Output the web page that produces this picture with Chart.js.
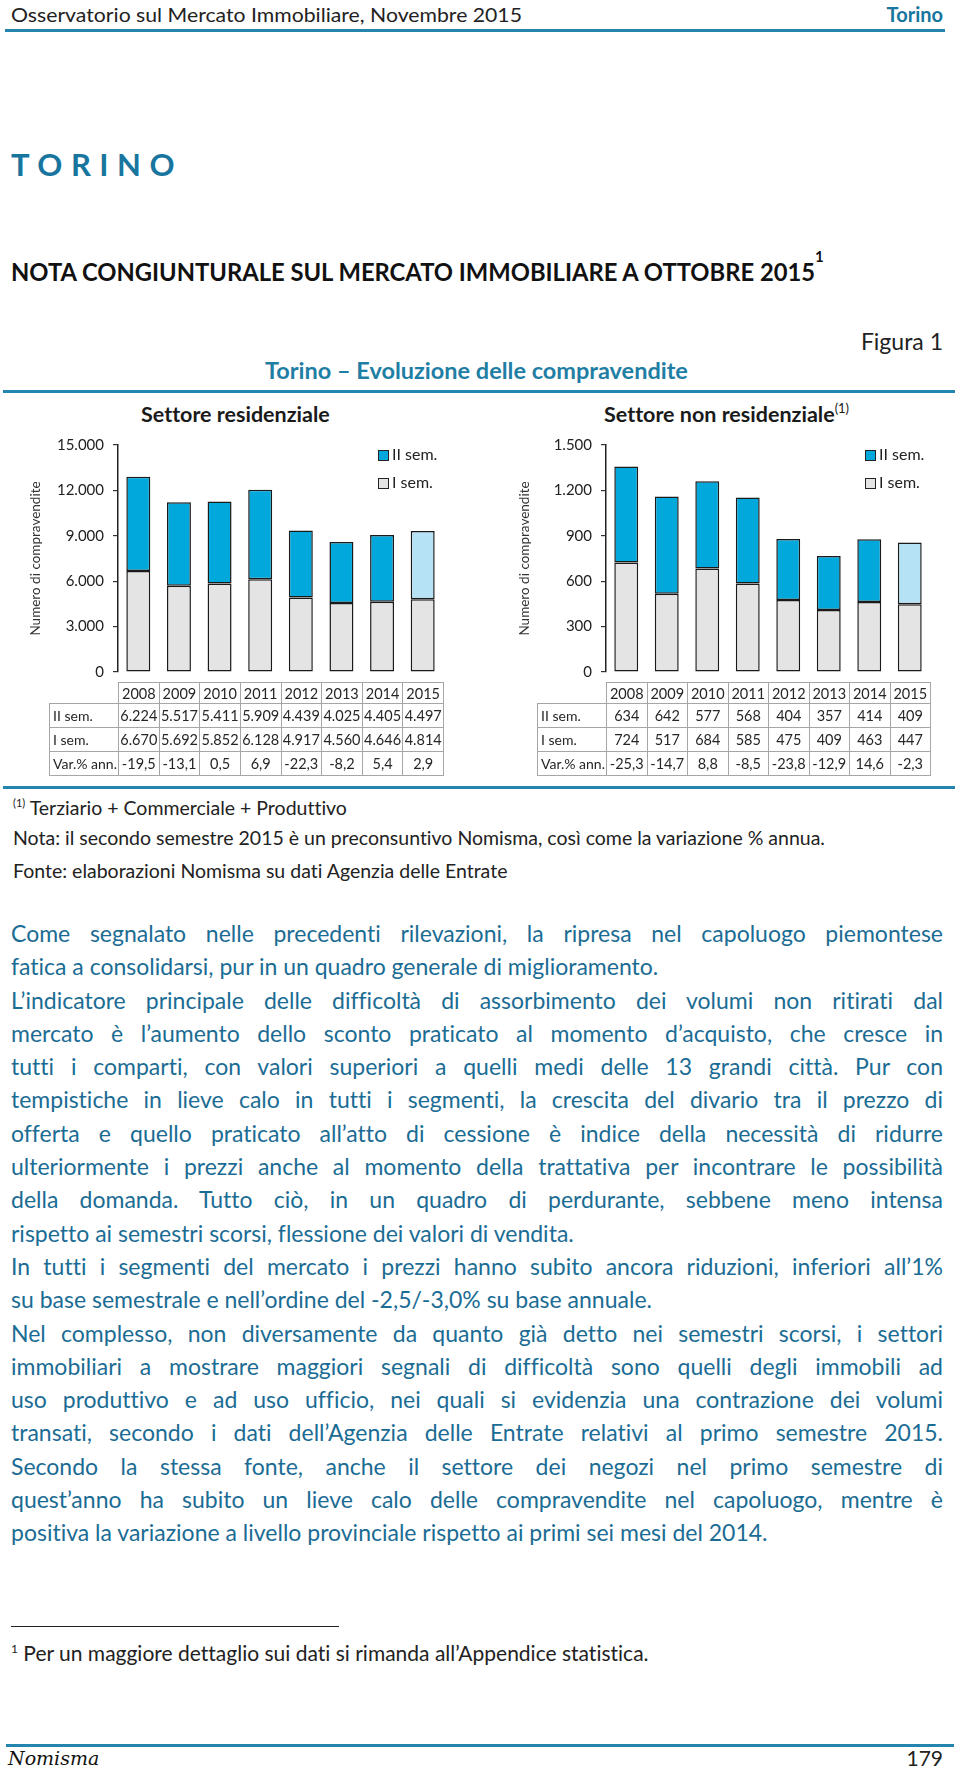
<!DOCTYPE html>
<html lang="it">
<head>
<meta charset="UTF-8">
<title>Torino – Evoluzione delle compravendite</title>
<script src="https://cdn.jsdelivr.net/npm/chart.js"></script>
<style>
  body { margin: 0; background: #fff; font-family: Lato, "Open Sans", sans-serif; color: #222; font-variant-ligatures: none; }
  .page { position: relative; width: 960px; height: 1770px; overflow: hidden; }
  .abs { position: absolute; white-space: nowrap; }
  .rule { position: absolute; background: #2486ae; }
  .teal { color: #17759e; }
  sup { font-size: 60%; line-height: 0; vertical-align: 0.7em; }
  canvas { position: absolute; }
  .legenda { position: absolute; font-size: 16px; color: #222; }
  .legenda div { height: 28px; line-height: 28px; white-space: nowrap; }
  .legenda span.box { display: inline-block; width: 9px; height: 9px; border: 1.5px solid #222; margin-right: 3px; vertical-align: -1px; }
  table.dati { position: absolute; border-collapse: collapse; table-layout: fixed; font-size: 14.5px; color: #262626; }
  table.dati td { border: 1px solid #a6a6a6; text-align: center; padding: 0; height: 23px; white-space: nowrap; }
  table.dati tr.anni td { height: 20px; }
  table.dati tr.anni td.vuoto { border: none; }
  table.dati td.lab { text-align: left; padding-left: 3px; font-size: 14px; }
  .note { position: absolute; left: 13px; font-size: 19.5px; color: #222; white-space: nowrap; }
  #testo { position: absolute; left: 11px; top: 917px; width: 932px; line-height: 33.3px; color: #1b6c94; font-size: 23px; }
  #testo div { text-align: justify; text-align-last: justify; height: 33.3px; }
  #testo div.fine { text-align: left; text-align-last: left; }
</style>
</head>
<body>
<div class="page">

  <div class="abs" id="intest" style="left:11px; top:2px; font-size:20px; line-height:24px;">Osservatorio sul Mercato Immobiliare, Novembre 2015</div>
  <div class="abs teal" style="right:17px; top:2px; font-size:20px; line-height:24px; font-weight:bold;">Torino</div>
  <div class="rule" style="left:5px; top:29px; width:940px; height:3px;"></div>

  <div class="abs teal" style="left:11px; top:146px; font-size:31px; line-height:36px; font-weight:bold; letter-spacing:8.5px;">TORINO</div>

  <div class="abs" id="titolo" style="left:11px; top:256px; font-size:25px; line-height:30px; font-weight:bold; color:#111;">NOTA CONGIUNTURALE SUL MERCATO IMMOBILIARE A OTTOBRE 2015</div>
  <div class="abs" style="left:815px; top:247px; font-size:15px; line-height:18px; font-weight:bold; color:#111;">1</div>

  <div class="abs" style="right:17px; top:327px; font-size:23px; line-height:28px; color:#222;">Figura 1</div>
  <div class="abs" style="left:265px; top:356px; font-size:23.5px; line-height:28px; font-weight:bold; color:#1f7ea4;">Torino – Evoluzione delle compravendite</div>
  <div class="rule" style="left:3px; top:390px; width:952px; height:3px;"></div>

  <div class="abs" style="left:141px; top:401px; font-size:21.5px; line-height:26px; font-weight:bold; color:#1a1a1a;">Settore residenziale</div>
  <div class="abs" style="left:604px; top:401px; font-size:21.5px; line-height:26px; font-weight:bold; color:#1a1a1a;">Settore non residenziale<sup style="font-weight:normal;">(1)</sup></div>

  <canvas id="graficoRes" width="480" height="265" style="left:0; top:425px;"></canvas>
  <canvas id="graficoNonRes" width="480" height="265" style="left:480px; top:425px;"></canvas>

  <div class="legenda" id="legRes" style="left:378px; top:440px;"></div>
  <div class="legenda" id="legNonRes" style="left:865px; top:440px;"></div>

  <table class="dati" id="tabRes"></table>
  <table class="dati" id="tabNonRes"></table>

  <div class="rule" style="left:3px; top:786px; width:952px; height:3px;"></div>

  <div class="note" style="top:796px;"><sup style="font-size:11px;">(1)</sup> Terziario + Commerciale + Produttivo</div>
  <div class="note" style="top:826px;">Nota: il secondo semestre 2015 è un preconsuntivo Nomisma, così come la variazione % annua.</div>
  <div class="note" style="top:859px;">Fonte: elaborazioni Nomisma su dati Agenzia delle Entrate</div>

  <div id="testo">
    <div>Come segnalato nelle precedenti rilevazioni, la ripresa nel capoluogo piemontese</div>
    <div class="fine">fatica a consolidarsi, pur in un quadro generale di miglioramento.</div>
    <div>L’indicatore principale delle difficoltà di assorbimento dei volumi non ritirati dal</div>
    <div>mercato è l’aumento dello sconto praticato al momento d’acquisto, che cresce in</div>
    <div>tutti i comparti, con valori superiori a quelli medi delle 13 grandi città. Pur con</div>
    <div>tempistiche in lieve calo in tutti i segmenti, la crescita del divario tra il prezzo di</div>
    <div>offerta e quello praticato all’atto di cessione è indice della necessità di ridurre</div>
    <div>ulteriormente i prezzi anche al momento della trattativa per incontrare le possibilità</div>
    <div>della domanda. Tutto ciò, in un quadro di perdurante, sebbene meno intensa</div>
    <div class="fine">rispetto ai semestri scorsi, flessione dei valori di vendita.</div>
    <div>In tutti i segmenti del mercato i prezzi hanno subito ancora riduzioni, inferiori all’1%</div>
    <div class="fine">su base semestrale e nell’ordine del -2,5/-3,0% su base annuale.</div>
    <div>Nel complesso, non diversamente da quanto già detto nei semestri scorsi, i settori</div>
    <div>immobiliari a mostrare maggiori segnali di difficoltà sono quelli degli immobili ad</div>
    <div>uso produttivo e ad uso ufficio, nei quali si evidenzia una contrazione dei volumi</div>
    <div>transati, secondo i dati dell’Agenzia delle Entrate relativi al primo semestre 2015.</div>
    <div>Secondo la stessa fonte, anche il settore dei negozi nel primo semestre di</div>
    <div>quest’anno ha subito un lieve calo delle compravendite nel capoluogo, mentre è</div>
    <div class="fine">positiva la variazione a livello provinciale rispetto ai primi sei mesi del 2014.</div>
  </div>

  <div style="position:absolute; left:11px; top:1626px; width:328px; height:1px; background:#222;"></div>
  <div class="abs" style="left:11px; top:1639px; font-size:21px; line-height:27px; color:#222;"><sup style="font-size:12px;">1</sup> Per un maggiore dettaglio sui dati si rimanda all’Appendice statistica.</div>

  <div class="rule" style="left:6px; top:1744px; width:948px; height:3px;"></div>
  <div class="abs" style="left:8px; top:1746px; font-family:'DejaVu Serif', serif; font-style:italic; font-size:19px; line-height:24px; color:#111;">Nomisma</div>
  <div class="abs" style="right:17px; top:1746px; font-size:21px; line-height:24px; color:#222;">179</div>
</div>

<script>
  // anni e semestri
  const anni = ['2008', '2009', '2010', '2011', '2012', '2013', '2014', '2015'];

  // settore residenziale
  const resIISem = [6224, 5517, 5411, 5909, 4439, 4025, 4405, 4497];
  const resISem = [6670, 5692, 5852, 6128, 4917, 4560, 4646, 4814];
  const resVar = [-19.5, -13.1, 0.5, 6.9, -22.3, -8.2, 5.4, 2.9];

  // settore non residenziale
  const nonResIISem = [634, 642, 577, 568, 404, 357, 414, 409];
  const nonResISem = [724, 517, 684, 585, 475, 409, 463, 447];
  const nonResVar = [-25.3, -14.7, 8.8, -8.5, -23.8, -12.9, 14.6, -2.3];

  const resTicks = [0, 3000, 6000, 9000, 12000, 15000];
  const nonResTicks = [0, 300, 600, 900, 1200, 1500];

  const BLU = '#00a8dc';
  const BLU_CHIARO = '#b6e2f6';
  const GRIGIO = '#e4e4e4';

  Chart.defaults.font.family = 'Lato';
  Chart.defaults.color = '#222';

  function migliaia(v) {
    return String(v).replace(/\B(?=(\d{3})+(?!\d))/g, '.');
  }
  function decimale(v) {
    return v.toFixed(1).replace('.', ',');
  }

  function creaGrafico(id, iiSem, iSem, ticks, padLeft, padRight, yWidth) {
    const ctx = document.getElementById(id).getContext('2d');
    // il secondo semestre 2015 e' un preconsuntivo: colore piu' chiaro
    const coloriII = iiSem.map((v, i) => i === iiSem.length - 1 ? BLU_CHIARO : BLU);
    return new Chart(ctx, {
      type: 'bar',
      data: {
        labels: anni,
        datasets: [{
          label: 'I sem.',
          data: iSem,
          backgroundColor: GRIGIO,
          borderColor: '#1a1a1a',
          borderWidth: 1.5,
          borderSkipped: false
        }, {
          label: 'II sem.',
          data: iiSem,
          backgroundColor: coloriII,
          borderColor: '#1a1a1a',
          borderWidth: 1.5,
          borderSkipped: false
        }]
      },
      options: {
        responsive: false,
        animation: false,
        devicePixelRatio: 1,
        layout: { padding: { left: padLeft, right: padRight, top: 20, bottom: 9 } },
        datasets: { bar: { categoryPercentage: 1, barPercentage: 0.59 } },
        plugins: { legend: { display: false }, tooltip: { enabled: false } },
        scales: {
          x: { stacked: true, display: false },
          y: {
            stacked: true,
            min: ticks[0],
            max: ticks[ticks.length - 1],
            afterBuildTicks: function(scale) {
              scale.ticks = ticks.map(v => ({ value: v }));
            },
            afterFit: function(scale) { scale.width = yWidth; },
            ticks: {
              padding: 9,
              font: { size: 15 },
              color: '#222',
              callback: v => migliaia(v)
            },
            grid: { drawOnChartArea: false, drawTicks: true, tickLength: 5, color: '#333', lineWidth: 1.2 },
            border: { display: true, color: '#222', width: 1.5 },
            title: {
              display: true,
              text: 'Numero di compravendite',
              font: { size: 13.5 },
              color: '#333',
              padding: 0
            }
          }
        }
      }
    });
  }

  function creaTabella(tabId, chart, canvasLeft, iiSem, iSem, varAnn, fmt) {
    const tab = document.getElementById(tabId);
    const area = chart.chartArea;
    const labW = 69;
    const colW = area.width / anni.length;
    tab.style.left = (canvasLeft + area.left - labW) + 'px';
    tab.style.top = '682px';
    tab.style.width = (labW + area.width) + 'px';

    let html = '<colgroup><col style="width:' + labW + 'px">';
    anni.forEach(() => { html += '<col style="width:' + colW + 'px">'; });
    html += '</colgroup>';
    html += '<tr class="anni"><td class="vuoto"></td>' + anni.map(a => '<td>' + a + '</td>').join('') + '</tr>';
    html += '<tr><td class="lab">II sem.</td>' + iiSem.map(v => '<td>' + fmt(v) + '</td>').join('') + '</tr>';
    html += '<tr><td class="lab">I sem.</td>' + iSem.map(v => '<td>' + fmt(v) + '</td>').join('') + '</tr>';
    html += '<tr><td class="lab">Var.% ann.</td>' + varAnn.map(v => '<td>' + decimale(v) + '</td>').join('') + '</tr>';
    tab.innerHTML = html;
  }

  function creaLegenda(id, chart) {
    const el = document.getElementById(id);
    const ds = chart.data.datasets.slice().reverse();
    el.innerHTML = ds.map(d => {
      const col = Array.isArray(d.backgroundColor) ? d.backgroundColor[0] : d.backgroundColor;
      return '<div><span class="box" style="background:' + col + '"></span>' + d.label + '</div>';
    }).join('');
  }

  const graficoRes = creaGrafico('graficoRes', resIISem, resISem, resTicks, 28, 37, 90);
  const graficoNonRes = creaGrafico('graficoNonRes', nonResIISem, nonResISem, nonResTicks, 37, 30, 89);

  creaTabella('tabRes', graficoRes, 0, resIISem, resISem, resVar, migliaia);
  creaTabella('tabNonRes', graficoNonRes, 480, nonResIISem, nonResISem, nonResVar, v => String(v));

  creaLegenda('legRes', graficoRes);
  creaLegenda('legNonRes', graficoNonRes);

  // adatta larghezze dei testi al riferimento
  function adatta(id, w) {
    const el = document.getElementById(id);
    const r = el.getBoundingClientRect().width;
    el.style.transformOrigin = 'left center';
    el.style.transform = 'scaleX(' + (w / r) + ')';
  }
  adatta('intest', 511);
  adatta('titolo', 804);

  // il testo giustificato deve stare su una riga per ogni div
  (function() {
    const righe = document.querySelectorAll('#testo div');
    let max = 0;
    righe.forEach(r => {
      const s = document.createElement('span');
      s.style.whiteSpace = 'nowrap';
      s.style.font = getComputedStyle(r).font;
      s.style.position = 'absolute';
      s.style.visibility = 'hidden';
      s.textContent = r.textContent;
      document.body.appendChild(s);
      max = Math.max(max, s.getBoundingClientRect().width);
      s.remove();
    });
    if (max > 928) {
      document.getElementById('testo').style.fontSize = (23 * 928 / max) + 'px';
    }
  })();
</script>
</body>
</html>
